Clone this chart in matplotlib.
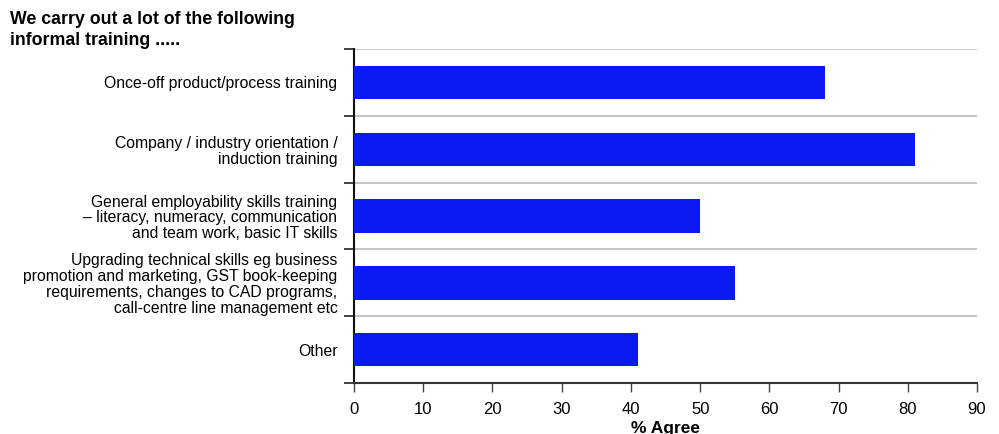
import numpy as np
import matplotlib.pyplot as plt
from matplotlib.ticker import MultipleLocator

categories = [
    "Once-off product/process training",
    "Company / industry orientation /\ninduction training",
    "General employability skills training\n\u2013 literacy, numeracy, communication\nand team work, basic IT skills",
    "Upgrading technical skills eg business\npromotion and marketing, GST book-keeping\nrequirements, changes to CAD programs,\ncall-centre line management etc",
    "Other",
]
agree = [68, 81, 50, 55, 41]

plt.rcParams['font.family'] = ['Liberation Sans', 'DejaVu Sans']

fig = plt.figure(figsize=(9.99, 4.34), dpi=100)
ax = fig.add_axes([0.3544, 0.1175, 0.6236, 0.7696])

pos = np.arange(len(categories))
ax.barh(pos, agree, height=0.5, color='#0A1AF0', zorder=3)

ax.set_ylim(len(categories) - 0.5, -0.5)
ax.set_xlim(0, 90)
ax.xaxis.set_major_locator(MultipleLocator(10))

# labels sit at band centres, ticks and separators at band edges
ax.set_yticks(pos)
ax.set_yticklabels(categories, fontsize=11.3, linespacing=1.08)
ax.tick_params(axis='y', which='major', length=0, pad=12)
ax.set_yticks(np.arange(len(categories) + 1) - 0.5, minor=True)
ax.tick_params(axis='y', which='minor', length=7, width=1.2, color='#222222')
ax.grid(axis='y', which='minor', color='#BBBBBB', linewidth=1.2, zorder=0)

ax.tick_params(axis='x', length=6.5, width=1, color='#444444', labelsize=12, pad=7)
ax.set_xlabel("% Agree", fontsize=12.5, fontweight='bold', labelpad=3)

for s in ['top', 'right']:
    ax.spines[s].set_visible(False)
ax.spines['left'].set_linewidth(1.5)
ax.spines['left'].set_color('#111111')
ax.spines['bottom'].set_linewidth(1.5)
ax.spines['bottom'].set_color('#333333')

fig.text(0.01, 0.975, "We carry out a lot of the following\ninformal training .....",
         fontsize=12.8, fontweight='bold', va='top', ha='left', linespacing=1.35)

fig.savefig("out.png", dpi=100)
plt.close(fig)
